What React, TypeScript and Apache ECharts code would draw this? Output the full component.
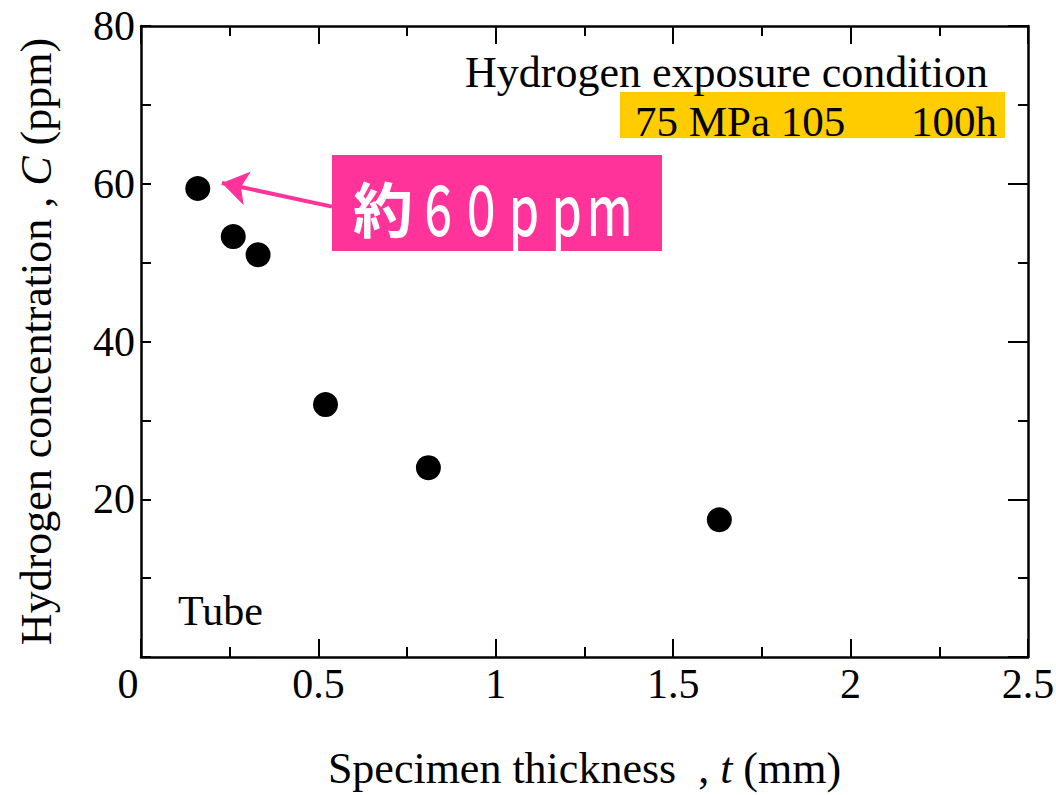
import React, { useEffect, useRef } from "react";
import * as echarts from "echarts";

const thickness = [0.16, 0.26, 0.33, 0.52, 0.81, 1.63];
const concentration = [59.4, 53.3, 51.0, 32.0, 24.0, 17.4];
const xTicks = [0, 0.5, 1, 1.5, 2, 2.5];
const yTicks = [0, 20, 40, 60, 80];
const arrowFrom = [0.538, 57.1];
const arrowTo = [0.228, 60.1];

const SERIF = '"Liberation Serif", "Times New Roman", serif';
const CJK = '"Noto Sans CJK JP", "Noto Sans", sans-serif';

export default function App() {
  const ref = useRef<HTMLDivElement>(null);
  useEffect(() => {
    if (!ref.current) return;
    document.body.style.margin = "0";
    const chart = echarts.init(ref.current, undefined, { renderer: "svg" });
    const axisLine = { show: true, onZero: false, lineStyle: { color: "#000", width: 2.5 } };
    const xCommon = {
      type: "value",
      min: xTicks[0],
      max: xTicks[xTicks.length - 1],
      interval: 0.5,
      axisLine,
      splitLine: { show: false },
      axisTick: { show: true, inside: true, length: 18, lineStyle: { color: "#000", width: 2 } },
      minorTick: { show: true, splitNumber: 2, length: 10, lineStyle: { color: "#000", width: 2 } },
    };
    const yCommon = {
      type: "value",
      min: yTicks[0],
      max: yTicks[yTicks.length - 1],
      interval: 20,
      axisLine,
      splitLine: { show: false },
      minorTick: { show: true, splitNumber: 2, length: 10, lineStyle: { color: "#000", width: 2 } },
    };
    chart.setOption({
      animation: false,
      backgroundColor: "#fff",
      grid: { left: 141, top: 26, width: 887, height: 631, containLabel: false, outerBoundsMode: "none" },
      xAxis: [
        {
          ...xCommon,
          position: "bottom",
          name: "Specimen thickness  , {i|t} (mm)",
          nameLocation: "middle",
          nameGap: 89,
          nameTextStyle: {
            fontFamily: SERIF,
            fontSize: 44,
            color: "#000",
            rich: { i: { fontFamily: SERIF, fontSize: 44, fontStyle: "italic", color: "#000" } },
          },
          axisLabel: {
            show: true,
            fontFamily: SERIF,
            fontSize: 42,
            color: "#000",
            margin: 6,
            formatter: (v: number) => (v === 0 ? "{z|0}" : String(v)),
            rich: { z: { fontFamily: SERIF, fontSize: 42, color: "#000", padding: [0, 26, 0, 0] } },
          },
        },
        { ...xCommon, position: "top", axisLabel: { show: false } },
      ],
      yAxis: [
        {
          ...yCommon,
          position: "left",
          axisTick: { show: true, inside: true, length: 10, lineStyle: { color: "#000", width: 2 } },
          name: "Hydrogen concentration , {i|C} (ppm)",
          nameLocation: "middle",
          nameGap: 83,
          nameTextStyle: {
            fontFamily: SERIF,
            fontSize: 44,
            color: "#000",
            rich: { i: { fontFamily: SERIF, fontSize: 44, fontStyle: "italic", color: "#000" } },
          },
          axisLabel: {
            show: true,
            fontFamily: SERIF,
            fontSize: 42,
            color: "#000",
            margin: 6,
            formatter: (v: number) => (v === 0 ? "" : String(v)),
          },
        },
        {
          ...yCommon,
          position: "right",
          axisTick: { show: true, inside: true, length: 20, lineStyle: { color: "#000", width: 2 } },
          axisLabel: { show: false },
        },
      ],
      series: [
        {
          type: "scatter",
          data: thickness.map((t, i) => [t, concentration[i]]),
          symbol: "circle",
          symbolSize: 25,
          itemStyle: { color: "#000", opacity: 1 },
          silent: true,
          markLine: {
            silent: true,
            animation: false,
            symbol: ["none", "arrow"],
            symbolSize: 26,
            label: { show: false },
            lineStyle: { color: "#ff3399", width: 4, type: "solid", opacity: 1 },
            emphasis: { disabled: true },
            data: [[{ coord: arrowFrom }, { coord: arrowTo }]],
          },
        },
      ],
      graphic: [
        {
          type: "rect",
          shape: { x: 620, y: 92, width: 385, height: 46 },
          style: { fill: "#ffcc00" },
          z: 5,
        },
        {
          type: "text",
          x: 465,
          y: 72,
          z: 6,
          style: { text: "Hydrogen exposure condition", font: `44px ${SERIF}`, lineHeight: 40, fill: "#000", verticalAlign: "middle", align: "left" },
        },
        {
          type: "text",
          x: 635,
          y: 121,
          z: 6,
          style: { text: "75 MPa 105", font: `43px ${SERIF}`, lineHeight: 40, fill: "#000", verticalAlign: "middle", align: "left" },
        },
        {
          type: "text",
          x: 997,
          y: 121,
          z: 6,
          style: { text: "100h", font: `43px ${SERIF}`, lineHeight: 40, fill: "#000", verticalAlign: "middle", align: "right" },
        },
        {
          type: "text",
          x: 178,
          y: 611,
          z: 6,
          style: { text: "Tube", font: `42px ${SERIF}`, fill: "#000", verticalAlign: "middle", align: "left" },
        },
        {
          type: "rect",
          shape: { x: 332, y: 155, width: 330, height: 96 },
          style: { fill: "#ff3399" },
          z: 5,
        },
        {
          type: "text",
          x: 353,
          y: 206,
          z: 6,
          style: { text: "約", font: `bold 60px ${CJK}`, fill: "#fff", verticalAlign: "middle", align: "left" },
        },
        {
          type: "text",
          x: 417,
          y: 206,
          z: 6,
          scaleX: 0.63,
          style: { text: "６０ｐｐｍ", font: `500 68px ${CJK}`, fill: "#fff", verticalAlign: "middle", align: "left" },
        },
      ],
    });
    return () => chart.dispose();
  }, []);
  return <div ref={ref} style={{ width: 1056, height: 795 }} />;
}
